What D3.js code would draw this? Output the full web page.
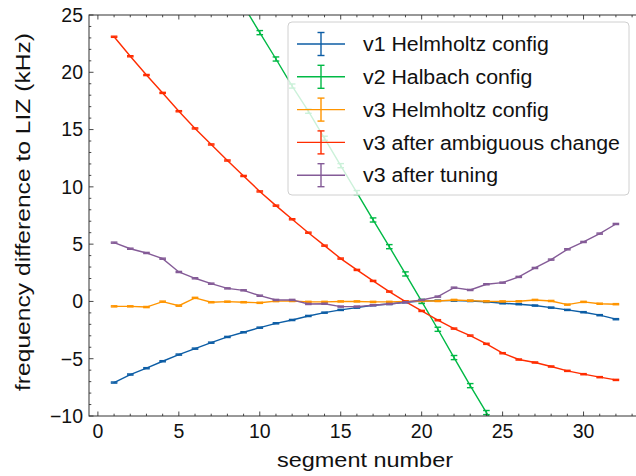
<!DOCTYPE html>
<html>
<head>
<meta charset="utf-8">
<script src="https://cdn.jsdelivr.net/npm/d3@7"></script>
<style>
  body { margin: 0; background: #fff; }
  svg text { font-family: "Liberation Sans", Arial, sans-serif; fill: #111; }
</style>
</head>
<body>
<svg id="chart" width="636" height="476"></svg>
<script>
// segment numbers
const segments = [1,2,3,4,5,6,7,8,9,10,11,12,13,14,15,16,17,18,19,20,21,22,23,24,25,26,27,28,29,30,31,32];
const segmentsV2 = [8,9,10,11,12,13,14,15,16,17,18,19,20,21,22,23,24,25];

// frequency differences (kHz)
const v1Helmholtz = [-7.08,-6.38,-5.83,-5.22,-4.64,-4.12,-3.6,-3.1,-2.69,-2.29,-1.91,-1.62,-1.27,-0.98,-0.74,-0.54,-0.33,-0.22,-0.07,0.04,0.07,0.07,0.04,-0.04,-0.16,-0.24,-0.36,-0.54,-0.74,-0.94,-1.2,-1.55];
const v2Halbach = [28.1,25.8,23.46,21.16,18.8,16.6,14.24,11.85,9.5,7.11,4.78,2.4,0.0,-2.43,-4.9,-7.35,-9.7,-12.1];
const v3Helmholtz = [-0.43,-0.43,-0.49,-0.02,-0.37,0.31,-0.07,-0.02,-0.07,-0.12,0.03,0.04,-0.04,-0.04,0,0,-0.04,-0.04,0,0.04,0.04,0.13,0.07,0.01,0,0.01,0.13,0.04,-0.28,-0.04,-0.2,-0.24];
const v3Ambiguous = [23.1,21.4,19.76,18.2,16.6,15.1,13.7,12.3,10.95,9.6,8.36,7.17,6.0,4.87,3.74,2.75,1.79,0.86,-0.02,-0.83,-1.64,-2.37,-2.98,-3.7,-4.52,-5.07,-5.33,-5.68,-6.06,-6.35,-6.61,-6.85];
const v3Tuned = [5.13,4.6,4.23,3.73,2.57,2.02,1.55,1.14,0.97,0.5,0.13,0.13,-0.22,-0.2,-0.45,-0.45,-0.33,-0.22,-0.07,0.13,0.42,1.2,1.0,1.5,1.64,2.14,2.92,3.65,4.55,5.19,5.92,6.76];

const seriesNames = ["v1 Helmholtz config", "v2 Halbach config", "v3 Helmholtz config", "v3 after ambiguous change", "v3 after tuning"];
const seriesColors = ["#0C5DA5", "#00B945", "#FF9500", "#FF2C00", "#845B97"];
const seriesErr = [0.05, 0.18, 0.05, 0.05, 0.05];

const xTicks = [0, 5, 10, 15, 20, 25, 30];
const yTicks = [-10, -5, 0, 5, 10, 15, 20, 25];

const series = [
  { x: segments, y: v1Helmholtz },
  { x: segmentsV2, y: v2Halbach },
  { x: segments, y: v3Helmholtz },
  { x: segments, y: v3Ambiguous },
  { x: segments, y: v3Tuned }
].map((s, i) => ({ name: seriesNames[i], color: seriesColors[i], err: seriesErr[i],
  pts: s.x.map((xv, j) => ({ x: xv, y: s.y[j] })) }));

const margin = { left: 89, top: 15, right: 641, bottom: 416 };
const svg = d3.select("#chart");

const x = d3.scaleLinear().domain([-0.55, 33.55]).range([margin.left, margin.right]);
const y = d3.scaleLinear().domain([-10, 25]).range([margin.bottom, margin.top]);

// stretch text a bit, the original font is wider than Liberation Sans
function widen(sel, factor) {
  sel.each(function () {
    const w = this.getComputedTextLength();
    d3.select(this).attr("textLength", w * factor).attr("lengthAdjust", "spacingAndGlyphs");
  });
}

svg.append("defs").append("clipPath").attr("id", "clip")
  .append("rect")
  .attr("x", margin.left).attr("y", margin.top)
  .attr("width", margin.right - margin.left).attr("height", margin.bottom - margin.top);

// data
const plot = svg.append("g").attr("clip-path", "url(#clip)");
const line = d3.line().x(d => x(d.x)).y(d => y(d.y));

series.forEach(s => {
  const g = plot.append("g");
  g.append("path")
    .datum(s.pts)
    .attr("fill", "none")
    .attr("stroke", s.color)
    .attr("stroke-width", 1.4)
    .attr("d", line);
  const eb = g.selectAll("g.eb").data(s.pts).join("g").attr("class", "eb");
  eb.append("line")
    .attr("x1", d => x(d.x)).attr("x2", d => x(d.x))
    .attr("y1", d => y(d.y - s.err)).attr("y2", d => y(d.y + s.err))
    .attr("stroke", s.color).attr("stroke-width", 1.4);
  [-1, 1].forEach(sgn => {
    eb.append("line")
      .attr("x1", d => x(d.x) - 3.3).attr("x2", d => x(d.x) + 3.3)
      .attr("y1", d => y(d.y + sgn * s.err)).attr("y2", d => y(d.y + sgn * s.err))
      .attr("stroke", s.color).attr("stroke-width", 1.4);
  });
});

// ticks (inward, all four sides)
const axisColor = "#333";
const ticksG = svg.append("g").attr("stroke", axisColor).attr("stroke-width", 0.9);
const xMinor = d3.range(0, 34);
const yMinor = d3.range(-10, 26);
xMinor.forEach(v => {
  const len = v % 5 === 0 ? 4.5 : 2.3;
  ticksG.append("line").attr("x1", x(v)).attr("x2", x(v)).attr("y1", margin.bottom).attr("y2", margin.bottom - len);
  ticksG.append("line").attr("x1", x(v)).attr("x2", x(v)).attr("y1", margin.top).attr("y2", margin.top + len);
});
yMinor.forEach(v => {
  const len = v % 5 === 0 ? 4.5 : 2.3;
  ticksG.append("line").attr("x1", margin.left).attr("x2", margin.left + len).attr("y1", y(v)).attr("y2", y(v));
  ticksG.append("line").attr("x1", margin.right).attr("x2", margin.right - len).attr("y1", y(v)).attr("y2", y(v));
});

// frame
svg.append("rect")
  .attr("x", margin.left).attr("y", margin.top)
  .attr("width", margin.right - margin.left).attr("height", margin.bottom - margin.top)
  .attr("fill", "none").attr("stroke", axisColor).attr("stroke-width", 1);

// tick labels
const fmt = v => (v < 0 ? "\u2212" + Math.abs(v) : String(v));
svg.append("g").selectAll("text").data(xTicks).join("text")
  .attr("x", d => x(d)).attr("y", margin.bottom + 22)
  .attr("text-anchor", "middle").attr("font-size", 19.5)
  .text(fmt);
svg.append("g").selectAll("text").data(yTicks).join("text")
  .attr("x", margin.left - 6).attr("y", d => y(d)).attr("dy", "0.35em")
  .attr("text-anchor", "end").attr("font-size", 19.5)
  .text(fmt);

// axis titles
const xTitle = svg.append("text")
  .attr("x", 365).attr("y", 467)
  .attr("text-anchor", "middle").attr("font-size", 21)
  .text("segment number");
const yTitle = svg.append("text")
  .attr("transform", "translate(30,212) rotate(-90)")
  .attr("text-anchor", "middle").attr("font-size", 21)
  .text("frequency difference to LIZ (kHz)");
xTitle.attr("textLength", 176).attr("lengthAdjust", "spacingAndGlyphs");
yTitle.attr("textLength", 358).attr("lengthAdjust", "spacingAndGlyphs");

// legend
const lg = svg.append("g");
lg.append("rect")
  .attr("x", 288).attr("y", 22).attr("width", 341).attr("height", 173)
  .attr("rx", 4)
  .attr("fill", "#fff").attr("fill-opacity", 0.8)
  .attr("stroke", "#d0d0d0").attr("stroke-width", 1);
series.forEach((s, i) => {
  const cy = 44 + i * 32.8;
  const row = lg.append("g").attr("stroke", s.color).attr("stroke-width", 1.4);
  row.append("line").attr("x1", 297).attr("x2", 345).attr("y1", cy).attr("y2", cy);
  row.append("line").attr("x1", 321).attr("x2", 321).attr("y1", cy - 11.5).attr("y2", cy + 11.5);
  row.append("line").attr("x1", 317.5).attr("x2", 324.5).attr("y1", cy - 11.5).attr("y2", cy - 11.5);
  row.append("line").attr("x1", 317.5).attr("x2", 324.5).attr("y1", cy + 11.5).attr("y2", cy + 11.5);
  lg.append("text")
    .attr("x", 363).attr("y", cy).attr("dy", "0.36em")
    .attr("font-size", 20)
    .text(s.name)
    .call(widen, 1.065);
});
</script>
</body>
</html>
